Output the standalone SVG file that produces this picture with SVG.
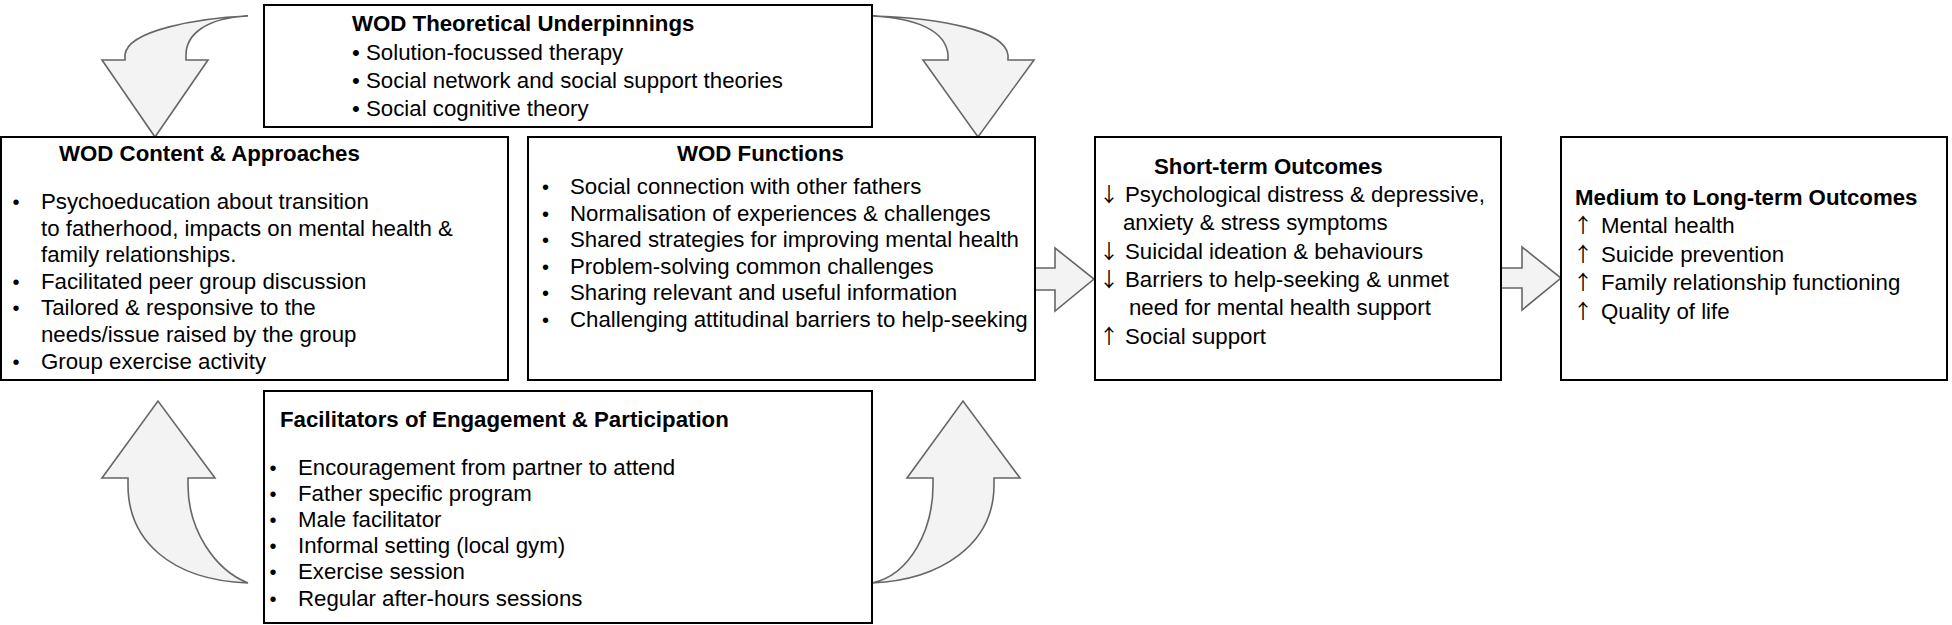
<svg xmlns="http://www.w3.org/2000/svg" width="1952" height="625" viewBox="0 0 1952 625">
<style>
.box{fill:#fff;stroke:#000;stroke-width:2}
.arr{fill:#f3f3f3;stroke:#666;stroke-width:1.6;stroke-linejoin:miter}
text{font-family:"Liberation Sans",Arial,sans-serif;font-size:22.25px;fill:#000}
.t{font-weight:bold}
.b{font-size:20px}
.ar{font-family:"Noto Sans CJK SC","DejaVu Sans",sans-serif;font-size:20px}
</style>
<rect width="1952" height="625" fill="#fff"/>
<g id="connectors">
<path class="arr" d="M248,16 C200,18 127,30 125,55 L125,60 L102,60 L155,137 L208,60 L186,60 L186,55 C186,35 205,18 248,16 Z"/>
<path class="arr" d="M872,16 C940,18 1005,30 1008,55 L1008,60 L1034,60 L978,137 L923,60 L948,60 L948,55 C946,30 915,18 872,16 Z"/>
<path class="arr" d="M248,583 C170,580 128,540 128,485 L128,478 L102,478 L158,401 L215,478 L188,478 L188,485 C188,530 215,570 248,583 Z"/>
<path class="arr" d="M872,583 C910,575 933,530 933,485 L933,478 L907,478 L963,401 L1020,478 L994,478 L994,485 C994,545 940,580 872,583 Z"/>
<path class="arr" d="M1035,268 L1055,268 L1055,248 L1094,279 L1055,311 L1055,290 L1035,290 Z"/>
<path class="arr" d="M1501,268 L1522,268 L1522,247 L1561,278 L1522,310 L1522,288 L1501,288 Z"/>
</g>
<g id="theory">
<rect class="box" x="264" y="5" width="608" height="122"/>
<text class="t" x="352" y="31">WOD Theoretical Underpinnings</text>
<text x="352" y="60">• Solution-focussed therapy</text>
<text x="352" y="88">• Social network and social support theories</text>
<text x="352" y="116">• Social cognitive theory</text>
</g>
<g id="content">
<rect class="box" x="1" y="137" width="507" height="243"/>
<text class="t" x="59" y="161">WOD Content &amp; Approaches</text>
<text class="b" x="12.5" y="209">•</text>
<text x="41" y="209">Psychoeducation about transition</text>
<text x="41" y="235.6">to fatherhood, impacts on mental health &amp;</text>
<text x="41" y="262.2">family relationships.</text>
<text class="b" x="12.5" y="288.8">•</text>
<text x="41" y="288.8">Facilitated peer group discussion</text>
<text class="b" x="12.5" y="315.4">•</text>
<text x="41" y="315.4">Tailored &amp; responsive to the</text>
<text x="41" y="342">needs/issue raised by the group</text>
<text class="b" x="12.5" y="368.6">•</text>
<text x="41" y="368.6">Group exercise activity</text>
</g>
<g id="functions">
<rect class="box" x="528" y="137" width="507" height="243"/>
<text class="t" x="677" y="161">WOD Functions</text>
<text class="b" x="542" y="194">•</text>
<text x="570" y="194">Social connection with other fathers</text>
<text class="b" x="542" y="220.6">•</text>
<text x="570" y="220.6">Normalisation of experiences &amp; challenges</text>
<text class="b" x="542" y="247.2">•</text>
<text x="570" y="247.2">Shared strategies for improving mental health</text>
<text class="b" x="542" y="273.8">•</text>
<text x="570" y="273.8">Problem-solving common challenges</text>
<text class="b" x="542" y="300.4">•</text>
<text x="570" y="300.4">Sharing relevant and useful information</text>
<text class="b" x="542" y="327">•</text>
<text x="570" y="327">Challenging attitudinal barriers to help-seeking</text>
</g>
<g id="short-term">
<rect class="box" x="1095" y="137" width="406" height="243"/>
<text class="t" x="1154" y="174">Short-term Outcomes</text>
<text class="ar" x="1099" y="202">↓</text>
<text x="1125" y="202">Psychological distress &amp; depressive,</text>
<text x="1123" y="230">anxiety &amp; stress symptoms</text>
<text class="ar" x="1099" y="258.5">↓</text>
<text x="1125" y="258.5">Suicidal ideation &amp; behaviours</text>
<text class="ar" x="1099" y="287">↓</text>
<text x="1125" y="287">Barriers to help-seeking &amp; unmet</text>
<text x="1129" y="315">need for mental health support</text>
<text class="ar" x="1099" y="343.5">↑</text>
<text x="1125" y="343.5">Social support</text>
</g>
<g id="medium-long-term">
<rect class="box" x="1561" y="137" width="386" height="243"/>
<text class="t" x="1575" y="205">Medium to Long-term Outcomes</text>
<text class="ar" x="1573" y="233">↑</text>
<text x="1601" y="233">Mental health</text>
<text class="ar" x="1573" y="261.5">↑</text>
<text x="1601" y="261.5">Suicide prevention</text>
<text class="ar" x="1573" y="290">↑</text>
<text x="1601" y="290">Family relationship functioning</text>
<text class="ar" x="1573" y="318.5">↑</text>
<text x="1601" y="318.5">Quality of life</text>
</g>
<g id="facilitators">
<rect class="box" x="264" y="391" width="608" height="232"/>
<text class="t" x="280" y="427">Facilitators of Engagement &amp; Participation</text>
<text class="b" x="269.5" y="474.5">•</text>
<text x="298" y="474.5">Encouragement from partner to attend</text>
<text class="b" x="269.5" y="500.7">•</text>
<text x="298" y="500.7">Father specific program</text>
<text class="b" x="269.5" y="526.9">•</text>
<text x="298" y="526.9">Male facilitator</text>
<text class="b" x="269.5" y="553.1">•</text>
<text x="298" y="553.1">Informal setting (local gym)</text>
<text class="b" x="269.5" y="579.3">•</text>
<text x="298" y="579.3">Exercise session</text>
<text class="b" x="269.5" y="605.5">•</text>
<text x="298" y="605.5">Regular after-hours sessions</text>
</g>
</svg>
